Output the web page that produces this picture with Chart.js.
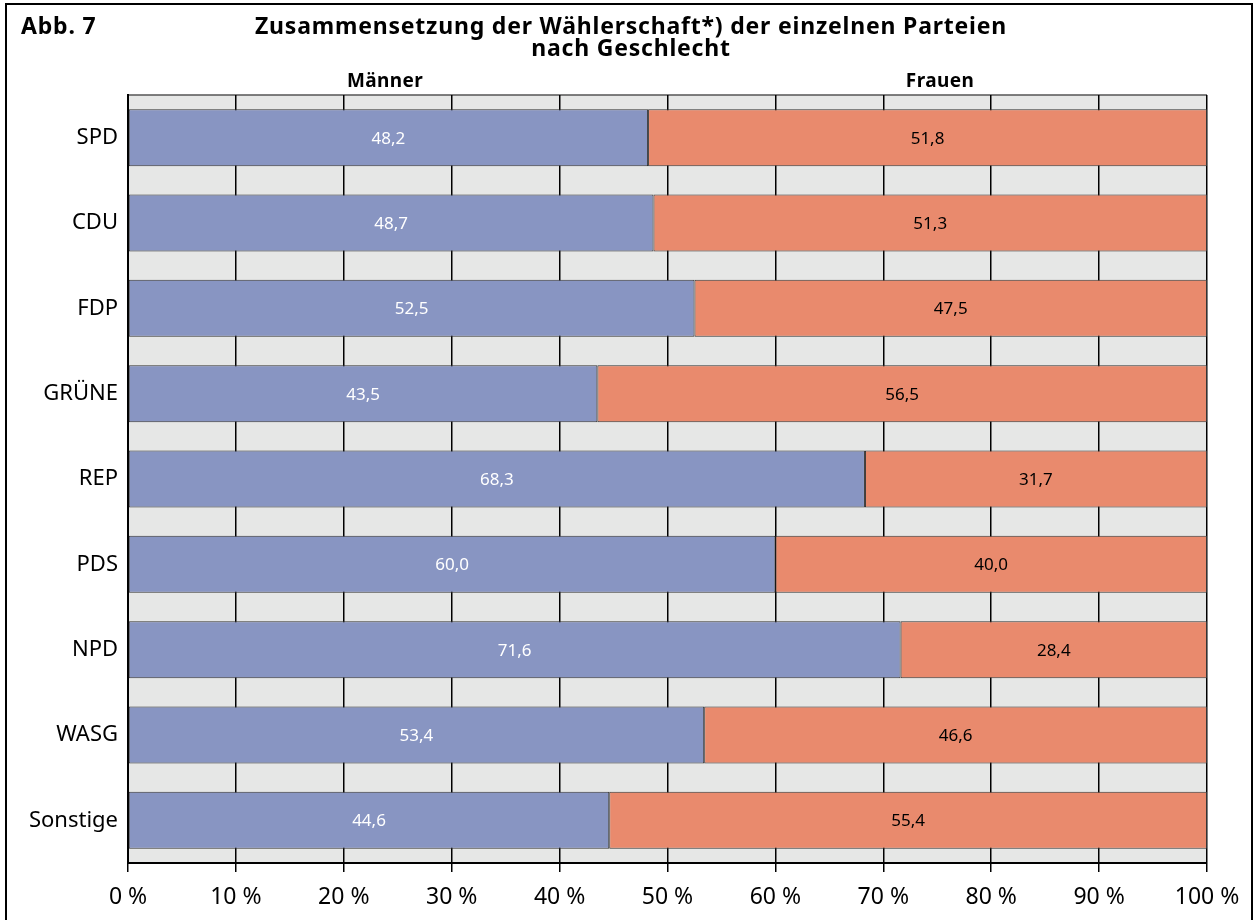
<!DOCTYPE html>
<html>
<head>
<meta charset="utf-8">
<script src="https://cdn.jsdelivr.net/npm/chart.js@4.4.1/dist/chart.umd.min.js"></script>
<style>
  body { margin:0; background:#fff; font-family:"Noto Sans", sans-serif; }
  #wrap { position:relative; width:1254px; height:920px; overflow:hidden; }
  #frame { position:absolute; left:5px; top:3px; width:1244px; height:940px; border:2px solid #000; }
  canvas { position:absolute; left:0; top:0; }
  .t { position:absolute; font-weight:bold; color:#000; white-space:nowrap; line-height:1; }
</style>
</head>
<body>
<div id="wrap">
  <div id="frame"></div>
  <canvas id="chart" width="1254" height="920"></canvas>
  <div class="t" style="left:21px; top:14px; font-size:23px; letter-spacing:0.8px;">Abb. 7</div>
  <div class="t" style="left:0; width:1262px; text-align:center; top:14px; font-size:23px; letter-spacing:0.8px;">Zusammensetzung der Wählerschaft*) der einzelnen Parteien</div>
  <div class="t" style="left:0; width:1262px; text-align:center; top:36px; font-size:23px; letter-spacing:0.8px;">nach Geschlecht</div>
  <div class="t" style="left:285px; width:200px; text-align:center; top:71px; font-size:19px; letter-spacing:0.4px;">Männer</div>
  <div class="t" style="left:840px; width:200px; text-align:center; top:71px; font-size:19px; letter-spacing:0.4px;">Frauen</div>
</div>
<script>
const categories = ["SPD","CDU","FDP","GRÜNE","REP","PDS","NPD","WASG","Sonstige"];
const maenner = [48.2, 48.7, 52.5, 43.5, 68.3, 60.0, 71.6, 53.4, 44.6];
const frauen  = [51.8, 51.3, 47.5, 56.5, 31.7, 40.0, 28.4, 46.6, 55.4];
const xTicks  = [0,10,20,30,40,50,60,70,80,90,100];

const FONT = "'Noto Sans', sans-serif";
const fmt = v => v.toFixed(1).replace(".", ",");

// grey plot background
const plotBg = {
  id: "plotBg",
  beforeDraw(chart) {
    const { ctx, chartArea: a } = chart;
    ctx.save();
    ctx.fillStyle = "#e6e7e6";
    ctx.fillRect(a.left, a.top, a.right - a.left, a.bottom - a.top);
    ctx.strokeStyle = "#555";
    ctx.lineWidth = 1.5;
    ctx.beginPath();
    ctx.moveTo(a.left, a.top); ctx.lineTo(a.right, a.top);
    ctx.stroke();
    ctx.restore();
  }
};

// value labels in bar centres
const valueLabels = {
  id: "valueLabels",
  afterDatasetsDraw(chart) {
    const { ctx } = chart;
    ctx.save();
    ctx.font = "17px " + FONT;
    ctx.textAlign = "center";
    ctx.textBaseline = "middle";
    chart.data.datasets.forEach((ds, di) => {
      chart.getDatasetMeta(di).data.forEach((bar, i) => {
        ctx.fillStyle = di === 0 ? "#fff" : "#000";
        ctx.fillText(fmt(ds.data[i]), (bar.x + bar.base) / 2, bar.y + 1);
      });
    });
    ctx.restore();
  }
};

new Chart(document.getElementById("chart"), {
  type: "bar",
  data: {
    labels: categories,
    datasets: [
      { label:"Männer", data:maenner, backgroundColor:"#8895c2", borderColor:"#333", borderWidth:1, borderSkipped:false },
      { label:"Frauen", data:frauen,  backgroundColor:"#e98a6d", borderColor:"#333", borderWidth:1, borderSkipped:false }
    ]
  },
  options: {
    responsive:false,
    animation:false,
    indexAxis:"y",
    datasets: { bar: { barPercentage:0.668, categoryPercentage:1 } },
    layout: { padding: { left:0, top:95, right:47, bottom:0 } },
    plugins: { legend:{display:false}, tooltip:{enabled:false}, title:{display:false} },
    scales: {
      x: {
        stacked:true, min:0, max:100,
        afterBuildTicks: s => { s.ticks = xTicks.map(v => ({ value:v })); },
        afterFit: s => { s.height = 57; },
        grid: { color:"#000", lineWidth:1.5, tickLength:9, drawOnChartArea:true },
        border: { color:"#000", width:2 },
        ticks: { color:"#000", padding:12, font:{ family:FONT, size:23 }, callback: v => v + " %" }
      },
      y: {
        stacked:true,
        afterFit: s => { s.width = 128; },
        grid: { display:false, drawTicks:false },
        border: { color:"#000", width:2 },
        ticks: { color:"#000", padding:10, font:{ family:FONT, size:22 } }
      }
    }
  },
  plugins: [plotBg, valueLabels]
});
</script>
</body>
</html>
